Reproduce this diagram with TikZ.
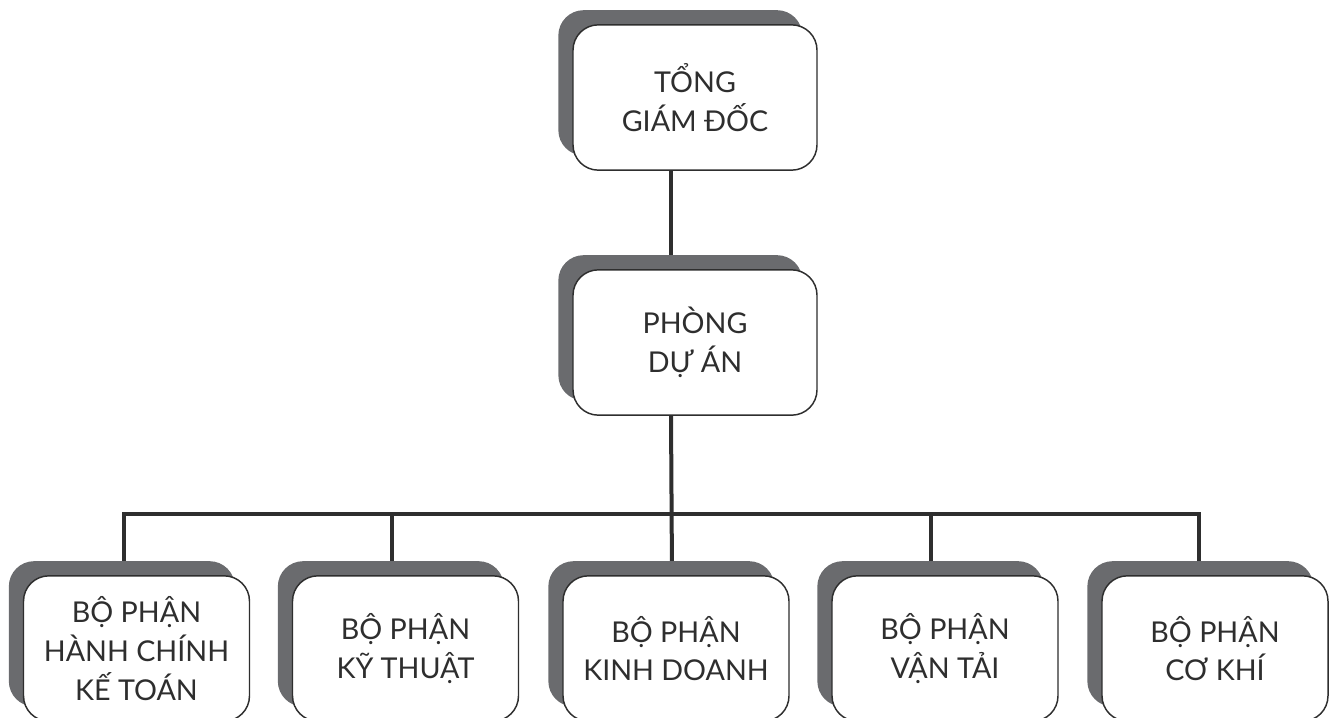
\documentclass[tikz,border=0pt]{standalone}
\usepackage{fontspec}
\setmainfont{Lato}
\usetikzlibrary{shadows,backgrounds,calc}
\definecolor{shd}{HTML}{6A6B6E}
\definecolor{ink}{HTML}{2E2E2E}
\begin{document}
\begin{tikzpicture}[x=0.75pt,y=-0.75pt,
  box/.style={draw=ink, line width=1.1pt, fill=white, rounded corners=19pt,
    align=center, text=ink, inner sep=0pt, minimum height=109pt,
    font=\fontsize{21.5}{29}\selectfont,
    general shadow={fill=shd, shadow xshift=-11pt, shadow yshift=11pt}},
  big/.style={box, minimum width=183pt},
  small/.style={box, minimum width=169.5pt},
  conn/.style={draw=ink, line width=3pt}]
\useasboundingbox (0,0) rectangle (1334,717);
\node[big] (t) at (695,97.5) {TỔNG\\GIÁM ĐỐC};
\node[big] (m) at (695,342.5) {PHÒNG\\DỰ ÁN};
\node[small] (b1) at (136.5,648.5) {BỘ PHẬN\\HÀNH CHÍNH\\KẾ TOÁN};
\node[small] (b2) at (405.5,648.5) {BỘ PHẬN\\KỸ THUẬT};
\node[small] (b3) at (676,648.5) {BỘ PHẬN\\KINH DOANH};
\node[small] (b4) at (945,648.5) {BỘ PHẬN\\VẬN TẢI};
\node[small] (b5) at (1215,648.5) {BỘ PHẬN\\CƠ KHÍ};
\begin{scope}[on background layer]
\draw[conn] ($(t.south)+(-24,0)$) -- ($(m.north)+(-24,0)$);
\draw[conn] ($(m.south)+(-24,0)$) -- ($(b3.north)+(-4,0)$);
\draw[conn] ($(b1.north)+(-12.5,0)$) -- ++(0,-61) -| ($(b5.north)+(-16,0)$);
\draw[conn] ($(b2.north)+(-13.5,0)$) -- ++(0,-61);
\draw[conn] ($(b4.north)+(-14,0)$) -- ++(0,-61);
\end{scope}
\end{tikzpicture}
\end{document}
